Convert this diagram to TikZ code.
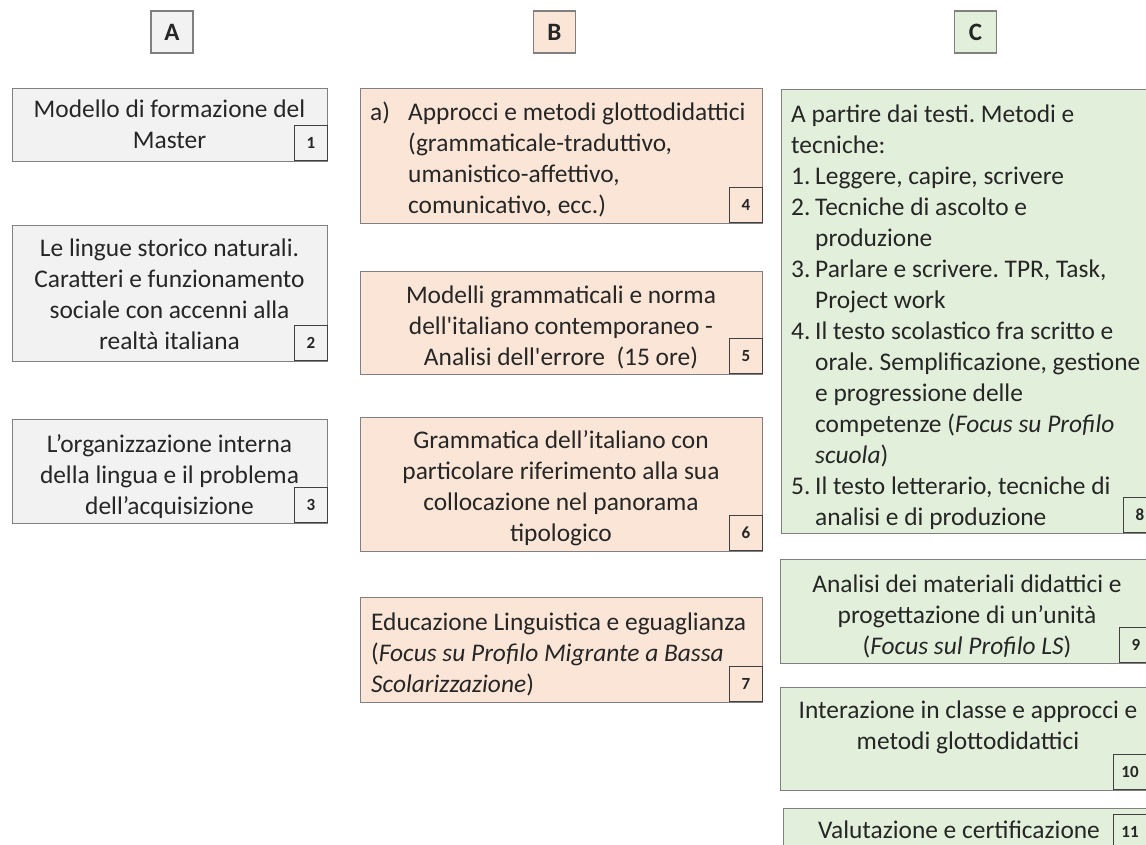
\documentclass[tikz,border=0pt]{standalone}
\usepackage{fontspec}
\setmainfont{Carlito}[Ligatures=TeXOff]
\frenchspacing
\definecolor{grayfill}{HTML}{F2F2F2}
\definecolor{orangefill}{HTML}{FBE5D6}
\definecolor{greenfill}{HTML}{E2EFDA}
\definecolor{boxline}{HTML}{808080}
\definecolor{numline}{HTML}{404040}
\definecolor{txtcol}{HTML}{262626}
\tikzset{
  panel/.style={draw=boxline, line width=1.3pt, anchor=north west, inner sep=0pt},
  hdr/.style={draw=boxline, line width=1.3pt, minimum width=42pt, minimum height=42pt, inner sep=0pt,
    font=\fontsize{25}{30}\selectfont\bfseries, text=txtcol},
  txt/.style={anchor=north, inner sep=0pt, text=txtcol, font=\fontsize{25.4}{31}\selectfont\frenchspacing},
  ltxt/.style={anchor=north west, inner sep=0pt, text=txtcol, font=\fontsize{25.4}{31}\selectfont\frenchspacing},
  num/.style={draw=numline, line width=1pt, anchor=south west, minimum width=33pt, minimum height=35pt,
    inner sep=0pt, text=txtcol, font=\fontsize{17}{20}\selectfont\bfseries},
}
\begin{document}
\begin{tikzpicture}[x=1pt,y=-1pt]
\useasboundingbox (0,0) rectangle (1146,845);
\clip (0,0) rectangle (1146,845);
\fill[white] (0,0) rectangle (1146,845);
% headers
\node[hdr, fill=grayfill] (hA) at (172,32) {A};
\node[hdr, fill=orangefill] (hB) at (554.5,32) {B};
\node[hdr, fill=greenfill] (hC) at (975.5,32) {C};
% column A
\node[panel, fill=grayfill, minimum width=315pt, minimum height=73pt] (b1) at (12,88) {};
\node[txt, align=center] (t1) at (169.5,96) {\strut Modello di formazione del\\Master};
\node[num, fill=grayfill] (n1) at (294,161) {1};
\node[panel, fill=grayfill, minimum width=315pt, minimum height=136pt] (b2) at (12,225) {};
\node[txt, align=center] (t2) at (169.5,235) {\strut Le lingue storico naturali.\\Caratteri e funzionamento\\sociale con accenni alla\\realtà italiana};
\node[num, fill=grayfill] (n2) at (294,361) {2};
\node[panel, fill=grayfill, minimum width=315pt, minimum height=104pt] (b3) at (12,419) {};
\node[txt, align=center] (t3) at (169.5,431) {\strut L’organizzazione interna\\della lingua e il problema\\dell’acquisizione};
\node[num, fill=grayfill] (n3) at (294,523) {3};
% column B
\node[panel, fill=orangefill, minimum width=402pt, minimum height=135pt] (b4) at (360,88) {};
\node[ltxt] (t4) at (370,99) {\begin{tabular}{@{}p{38pt}@{}l@{}}a) & Approcci e metodi glottodidattici\\ & (grammaticale-traduttivo,\\ & umanistico-affettivo,\\ & comunicativo, ecc.)\end{tabular}};
\node[num, fill=orangefill] (n4) at (729,223) {4};
\node[panel, fill=orangefill, minimum width=402pt, minimum height=103pt] (b5) at (360,271) {};
\node[txt, align=center] (t5) at (561,282) {\strut Modelli grammaticali e norma\\dell'italiano contemporaneo -\\Analisi dell'errore~~(15 ore)};
\node[num, fill=orangefill] (n5) at (729,374) {5};
\node[panel, fill=orangefill, minimum width=402pt, minimum height=134pt] (b6) at (360,417) {};
\node[txt, align=center] (t6) at (561,427) {\strut Grammatica dell’italiano con\\particolare riferimento alla sua\\collocazione nel panorama\\tipologico};
\node[num, fill=orangefill] (n6) at (729,551) {6};
\node[panel, fill=orangefill, minimum width=402pt, minimum height=105pt] (b7) at (360,597) {};
\node[ltxt, align=left] (t7) at (371,609) {\strut Educazione Linguistica e eguaglianza\\(\textit{Focus su Profilo Migrante a Bassa}\\\textit{Scolarizzazione})};
\node[num, fill=orangefill] (n7) at (729,702) {7};
% column C
\node[panel, fill=greenfill, minimum width=376pt, minimum height=444pt] (b8) at (781,89) {};
\node[ltxt] (t8) at (791,101) {\begin{tabular}{@{}p{24pt}@{}l@{}}
\multicolumn{2}{@{}l@{}}{A partire dai testi. Metodi e}\\
\multicolumn{2}{@{}l@{}}{tecniche:}\\
1. & Leggere, capire, scrivere\\
2. & Tecniche di ascolto e\\
 & produzione\\
3. & Parlare e scrivere. TPR, Task,\\
 & Project work\\
4. & Il testo scolastico fra scritto e\\
 & orale. Semplificazione, gestione\\
 & e progressione delle\\
 & competenze (\textit{Focus su Profilo}\\
 & \textit{scuola})\\
5. & Il testo letterario, tecniche di\\
 & analisi e di produzione
\end{tabular}};
\node[num, fill=greenfill] (n8) at (1123,533) {8};
\node[panel, fill=greenfill, minimum width=374pt, minimum height=104pt] (b9) at (780,559) {};
\node[txt, align=center] (t9) at (967,571) {\strut Analisi dei materiali didattici e\\progettazione di un’unità\\(\textit{Focus sul Profilo LS})};
\node[num, fill=greenfill] (n9) at (1119,663) {9};
\node[panel, fill=greenfill, minimum width=367pt, minimum height=103pt] (b10) at (780,687) {};
\node[txt, align=center] (t10) at (968,697) {\strut Interazione in classe e approcci e\\metodi glottodidattici};
\node[num, fill=greenfill] (n10) at (1113,790) {10};
\node[panel, fill=greenfill, minimum width=364pt, minimum height=60pt] (b11) at (783,808) {};
\node[txt] (t11) at (959,817) {\strut Valutazione e certificazione};
\node[num, fill=greenfill] (n11) at (1113,850) {11};
\end{tikzpicture}
\end{document}
